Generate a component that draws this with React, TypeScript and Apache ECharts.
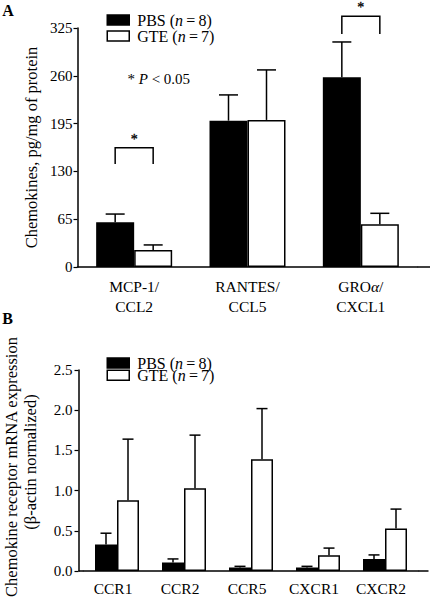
import React, { useEffect, useRef } from "react";
import * as echarts from "echarts";

// ---------- Panel A data: chemokines (pg/mg of protein) ----------
const chemokineCategories = ["MCP-1/\nCCL2", "RANTES/\nCCL5", "GROα/\nCXCL1"];
const chemokinePBS = [61, 199, 258];
const chemokinePBSErr = [11, 35, 48];
const chemokineGTE = [23, 200, 58];
const chemokineGTEErr = [7, 68, 15];
const chemokineMin = 0;
const chemokineMax = 325;
const chemokineInterval = 65;
// significance brackets: [category index, bracket foot value, bracket top value]
const chemokineBrackets = [
  [0, 140, 162],
  [2, 317, 341],
];

// ---------- Panel B data: chemokine receptor mRNA expression ----------
const receptorCategories = ["CCR1", "CCR2", "CCR5", "CXCR1", "CXCR2"];
const receptorPBS = [0.33, 0.105, 0.045, 0.045, 0.15];
const receptorPBSErr = [0.14, 0.045, 0.013, 0.013, 0.05];
const receptorGTE = [0.88, 1.03, 1.39, 0.195, 0.53];
const receptorGTEErr = [0.76, 0.66, 0.63, 0.09, 0.24];
const receptorMin = 0;
const receptorMax = 2.5;
const receptorInterval = 0.5;

const FONT = "'Liberation Serif', 'Times New Roman', Times, serif";

// layout
const A = { left: 77.5, top: 28, width: 340, height: 239, barW: 38, axisEnd: 430 };
const B = { left: 83.5, top: 370, width: 335, height: 201, barW: 22, yOffset: 5, axisEnd: 428.5 };

const lineStyle = { stroke: "#000", lineWidth: 1.5 };

function errorRender(sign: number, barW: number) {
  return (params: any, api: any) => {
    const cat = api.value(0);
    const mean = api.value(1);
    const top = api.value(2);
    const base = api.coord([cat, mean]);
    const tp = api.coord([cat, top]);
    const x = base[0] + (sign * barW) / 2;
    const half = barW / 4;
    return {
      type: "group",
      children: [
        { type: "line", shape: { x1: x, y1: base[1], x2: x, y2: tp[1] }, style: lineStyle },
        { type: "line", shape: { x1: x - half, y1: tp[1], x2: x + half, y2: tp[1] }, style: lineStyle },
      ],
    };
  };
}

function bracketRender(barW: number) {
  return (params: any, api: any) => {
    const cat = api.value(0);
    const foot = api.coord([cat, api.value(1)]);
    const top = api.coord([cat, api.value(2)]);
    const xl = top[0] - barW / 2;
    const xr = top[0] + barW / 2;
    return {
      type: "group",
      children: [
        {
          type: "polyline",
          shape: { points: [[xl, foot[1]], [xl, top[1]], [xr, top[1]], [xr, foot[1]]] },
          style: { ...lineStyle, fill: null },
        },
        {
          type: "text",
          x: top[0],
          y: top[1] - 15.5,
          style: {
            text: "*",
            align: "center",
            verticalAlign: "top",
            fontFamily: FONT,
            fontSize: 14,
            fill: "#000",
            stroke: "#000",
            lineWidth: 0.3,
          },
        },
      ],
    };
  };
}

const legendRich = {
  i: { fontStyle: "italic", fontFamily: FONT, fontSize: 16, lineHeight: 16, color: "#000" },
};
const legendFormatter = (name: string) =>
  name === "PBS" ? "PBS ({i|n}\u2009=\u20098)" : "GTE ({i|n}\u2009=\u20097)";

export default function App() {
  const ref = useRef<HTMLDivElement>(null);

  useEffect(() => {
    if (!ref.current) return;
    const chart = echarts.init(ref.current, null, { renderer: "svg" });

    const pbsStyle = { color: "#000", borderColor: "#000", borderWidth: 1.5 };
    const gteStyle = { color: "#fff", borderColor: "#000", borderWidth: 1.5 };
    const blackItem = { color: "#000" };

    const legendBase = {
      data: ["PBS", "GTE"],
      orient: "vertical",
      left: 106.5,
      padding: 0,
      itemWidth: 22,
      itemHeight: 10,
      icon: "rect",
      selectedMode: false,
      itemStyle: { borderColor: "#000", borderWidth: 1.5 },
      formatter: legendFormatter,
      textStyle: { fontFamily: FONT, fontSize: 16, lineHeight: 16, color: "#000", padding: [0, 0, 0, 3], rich: legendRich },
    };

    const option: any = {
      animation: false,
      backgroundColor: "#fff",
      textStyle: { fontFamily: FONT, color: "#000" },
      grid: [
        { left: A.left, top: A.top, width: A.width, height: A.height, containLabel: false },
        { left: B.left, top: B.top, width: B.width, height: B.height, containLabel: false },
      ],
      legend: [
        { ...legendBase, top: 12, itemGap: 0 },
        { ...legendBase, top: 355, itemGap: -3.8 },
      ],
      xAxis: [
        {
          type: "category",
          gridIndex: 0,
          data: chemokineCategories,
          axisLine: { lineStyle: { color: "#000", width: 1.5 } },
          axisTick: { show: false },
          axisLabel: {
            margin: 9,
            fontFamily: FONT,
            fontSize: 15.5,
            lineHeight: 20,
            color: "#000",
            formatter: (v: string) => v.replace("α", "{i|α}"),
            rich: { i: { fontStyle: "italic", fontFamily: FONT, fontSize: 15.5, lineHeight: 20, color: "#000" } },
          },
        },
        {
          type: "category",
          gridIndex: 1,
          data: receptorCategories,
          axisLine: { lineStyle: { color: "#000", width: 1.5 } },
          axisTick: { show: false },
          axisLabel: {
            margin: 8,
            fontFamily: FONT,
            fontSize: 15.5,
            lineHeight: 18,
            color: "#000",
            padding: [0, 8, 0, 0],
          },
        },
      ],
      yAxis: [
        {
          type: "value",
          gridIndex: 0,
          min: chemokineMin,
          max: chemokineMax,
          interval: chemokineInterval,
          axisLine: { show: true, lineStyle: { color: "#000", width: 1.5 } },
          axisTick: { show: true, length: 4, lineStyle: { color: "#000", width: 1.2 } },
          splitLine: { show: false },
          axisLabel: { margin: 5, fontFamily: FONT, fontSize: 15, color: "#000" },
        },
        {
          type: "value",
          gridIndex: 1,
          min: receptorMin,
          max: receptorMax,
          interval: receptorInterval,
          offset: B.yOffset,
          axisLine: { show: true, lineStyle: { color: "#000", width: 1.5 } },
          axisTick: { show: true, length: 4, lineStyle: { color: "#000", width: 1.2 } },
          splitLine: { show: false },
          axisLabel: {
            margin: 6,
            fontFamily: FONT,
            fontSize: 15,
            color: "#000",
            formatter: (v: number) => v.toFixed(1),
          },
        },
      ],
      series: [
        // Panel A bars
        { name: "PBS", type: "bar", xAxisIndex: 0, yAxisIndex: 0, data: chemokinePBS, barWidth: A.barW, barGap: "0%", itemStyle: pbsStyle, z: 2 },
        { name: "GTE", type: "bar", xAxisIndex: 0, yAxisIndex: 0, data: chemokineGTE, barWidth: A.barW, barGap: "0%", itemStyle: gteStyle, z: 2 },
        {
          type: "custom",
          xAxisIndex: 0,
          yAxisIndex: 0,
          renderItem: errorRender(-1, A.barW),
          data: chemokinePBS.map((v, i) => [i, v, v + chemokinePBSErr[i]]),
          encode: { x: 0, y: [1, 2] },
          itemStyle: blackItem,
          clip: false,
          z: 3,
        },
        {
          type: "custom",
          xAxisIndex: 0,
          yAxisIndex: 0,
          renderItem: errorRender(1, A.barW),
          data: chemokineGTE.map((v, i) => [i, v, v + chemokineGTEErr[i]]),
          encode: { x: 0, y: [1, 2] },
          itemStyle: blackItem,
          clip: false,
          z: 3,
        },
        {
          type: "custom",
          xAxisIndex: 0,
          yAxisIndex: 0,
          renderItem: bracketRender(A.barW),
          data: chemokineBrackets,
          encode: { x: 0, y: [1, 2] },
          itemStyle: blackItem,
          clip: false,
          z: 3,
        },
        // Panel B bars
        { name: "PBS", type: "bar", xAxisIndex: 1, yAxisIndex: 1, data: receptorPBS, barWidth: B.barW, barGap: "0%", itemStyle: pbsStyle, z: 2 },
        { name: "GTE", type: "bar", xAxisIndex: 1, yAxisIndex: 1, data: receptorGTE, barWidth: B.barW, barGap: "0%", itemStyle: gteStyle, z: 2 },
        {
          type: "custom",
          xAxisIndex: 1,
          yAxisIndex: 1,
          renderItem: errorRender(-1, B.barW),
          data: receptorPBS.map((v, i) => [i, v, v + receptorPBSErr[i]]),
          encode: { x: 0, y: [1, 2] },
          itemStyle: blackItem,
          clip: false,
          z: 3,
        },
        {
          type: "custom",
          xAxisIndex: 1,
          yAxisIndex: 1,
          renderItem: errorRender(1, B.barW),
          data: receptorGTE.map((v, i) => [i, v, v + receptorGTEErr[i]]),
          encode: { x: 0, y: [1, 2] },
          itemStyle: blackItem,
          clip: false,
          z: 3,
        },
      ],
      graphic: [
        // axis line extensions
        { type: "line", shape: { x1: A.left + A.width, y1: A.top + A.height, x2: A.axisEnd, y2: A.top + A.height }, style: lineStyle, z: 1 },
        { type: "line", shape: { x1: B.left - B.yOffset, y1: B.top + B.height, x2: B.left, y2: B.top + B.height }, style: lineStyle, z: 1 },
        { type: "line", shape: { x1: B.left + B.width, y1: B.top + B.height, x2: B.axisEnd, y2: B.top + B.height }, style: lineStyle, z: 1 },
        // panel letters
        { type: "text", x: 8, y: 10, style: { text: "A", align: "center", verticalAlign: "middle", fontFamily: FONT, fontSize: 16, fontWeight: "bold", fill: "#000" } },
        { type: "text", x: 7.5, y: 318, style: { text: "B", align: "center", verticalAlign: "middle", fontFamily: FONT, fontSize: 16, fontWeight: "bold", fill: "#000" } },
        // y-axis titles
        {
          type: "text",
          x: 31,
          y: 147.5,
          rotation: Math.PI / 2,
          style: { text: "Chemokines, pg/mg of protein", align: "center", verticalAlign: "middle", fontFamily: FONT, fontSize: 16.5, fill: "#000" },
        },
        {
          type: "text",
          x: 11.5,
          y: 467,
          rotation: Math.PI / 2,
          style: { text: "Chemokine receptor mRNA expression", align: "center", verticalAlign: "middle", fontFamily: FONT, fontSize: 16.5, fill: "#000" },
        },
        {
          type: "text",
          x: 30,
          y: 462,
          rotation: Math.PI / 2,
          style: { text: "(β-actin normalized)", align: "center", verticalAlign: "middle", fontFamily: FONT, fontSize: 16.5, fill: "#000" },
        },
        // p-value note
        {
          type: "text",
          x: 127.5,
          y: 79,
          style: {
            text: "* {i|P} < 0.05",
            align: "left",
            verticalAlign: "middle",
            fontFamily: FONT,
            fontSize: 15,
            fill: "#000",
            rich: { i: { fontStyle: "italic", fontFamily: FONT, fontSize: 15, fill: "#000" } },
          },
        },
      ],
    };

    chart.setOption(option);
    return () => chart.dispose();
  }, []);

  return (
    <div
      ref={ref}
      style={{ position: "fixed", left: 0, top: 0, width: 434, height: 604, background: "#fff" }}
    />
  );
}
